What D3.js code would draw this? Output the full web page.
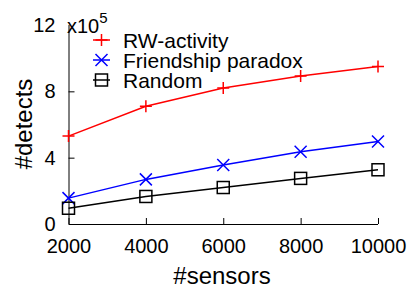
<!DOCTYPE html>
<html><head><meta charset="utf-8">
<script src="https://cdn.jsdelivr.net/npm/d3@7"></script>
<style>body{margin:0;background:#fff;} text{font-family:"Liberation Sans",Arial,sans-serif;}</style>
</head><body><svg id="c" width="415" height="291"></svg>
<script>
const sensors = [2000, 4000, 6000, 8000, 10000];
const rwActivity = [5.3, 7.1, 8.2, 8.93, 9.5];
const friendship = [1.56, 2.69, 3.56, 4.36, 4.97];
const randomSel = [0.95, 1.66, 2.2, 2.75, 3.27];
const yTicks = [0, 4, 8, 12];
const seriesNames = ["RW-activity", "Friendship paradox", "Random"];

const svg = d3.select("#c");
const x = d3.scaleLinear().domain([2000, 10000]).range([68.5, 378]);
const y = d3.scaleLinear().domain([0, 12]).range([224, 25]);

const series = [
  {name: seriesNames[0], vals: rwActivity, color: "#ff0000", sym: "plus"},
  {name: seriesNames[1], vals: friendship, color: "#0000ff", sym: "cross"},
  {name: seriesNames[2], vals: randomSel, color: "#000000", sym: "square"}
];

// axes
const xAxis = d3.axisBottom(x).tickValues(sensors).tickSize(-6).tickFormat(d3.format("d"));
const gx = svg.append("g").attr("transform", "translate(0,224)").call(xAxis);
gx.select(".domain").attr("stroke", "#000").attr("d", "M68.5,0.5H378");
gx.selectAll("text").attr("font-size", 20).attr("fill", "#000").attr("y", 15).attr("dy", "0.71em");
gx.selectAll("line").attr("stroke", "#000");

const yAxis = d3.axisLeft(y).tickValues(yTicks).tickSize(-6);
const gy = svg.append("g").attr("transform", "translate(68.5,0)").call(yAxis);
gy.select(".domain").attr("stroke", "#000").attr("d", "M0.5,224V25");
gy.selectAll("text").attr("font-size", 20).attr("fill", "#000").attr("x", -13);
gy.selectAll("line").attr("stroke", "#000");
gy.selectAll(".tick").filter(d => d === 0 || d === 12).select("line").remove();

svg.append("text").attr("x", 67).attr("y", 33).attr("font-size", 20).text("x10")
  .append("tspan").attr("dy", -10).attr("font-size", 15).text("5");

svg.append("text").attr("transform", "translate(32,124) rotate(-90)")
  .attr("text-anchor", "middle").attr("font-size", 24).text("#detects");
svg.append("text").attr("x", 222).attr("y", 284)
  .attr("text-anchor", "middle").attr("font-size", 24).text("#sensors");

function marker(g, sym, cx, cy, color) {
  const s = 6;
  if (sym === "plus") {
    g.append("path").attr("d", `M${cx - s},${cy}H${cx + s}M${cx},${cy - s}V${cy + s}`)
      .attr("stroke", color).attr("stroke-width", 1.5).attr("fill", "none");
  } else if (sym === "cross") {
    g.append("path").attr("d", `M${cx - s},${cy - s}L${cx + s},${cy + s}M${cx - s},${cy + s}L${cx + s},${cy - s}`)
      .attr("stroke", color).attr("stroke-width", 1.5).attr("fill", "none");
  } else {
    g.append("rect").attr("x", cx - s).attr("y", cy - s).attr("width", 2 * s).attr("height", 2 * s)
      .attr("stroke", color).attr("stroke-width", 1.5).attr("fill", "none");
  }
}

const line = d3.line().x((d, i) => x(sensors[i])).y(d => y(d));
series.forEach(s => {
  const g = svg.append("g");
  g.append("path").datum(s.vals).attr("d", line).attr("fill", "none")
    .attr("stroke", s.color).attr("stroke-width", 1.5);
  s.vals.forEach((v, i) => marker(g, s.sym, x(sensors[i]), y(v), s.color));
});

// legend
series.forEach((s, i) => {
  const ly = 40 + i * 20;
  const g = svg.append("g");
  g.append("line").attr("x1", 93).attr("x2", 110).attr("y1", ly).attr("y2", ly)
    .attr("stroke", s.color).attr("stroke-width", 1.5);
  marker(g, s.sym, 101.5, ly, s.color);
  g.append("text").attr("x", 123).attr("y", ly).attr("dy", "0.36em")
    .attr("font-size", 21).text(s.name);
});
</script></body></html>
